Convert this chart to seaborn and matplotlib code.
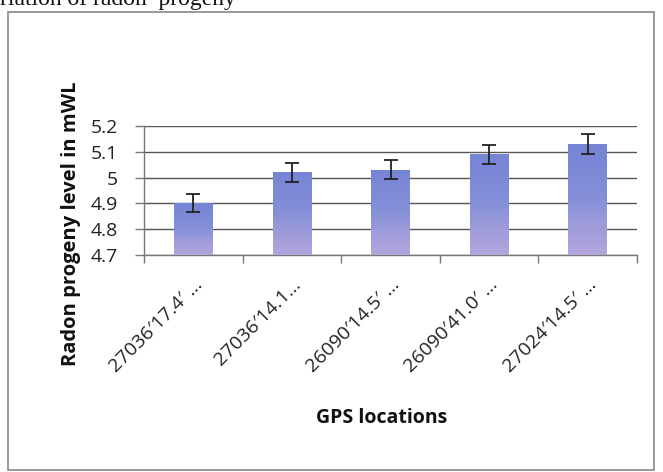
import matplotlib
matplotlib.use("Agg")
import matplotlib.pyplot as plt
from matplotlib.patches import Rectangle
from matplotlib.colors import LinearSegmentedColormap
import seaborn as sns
import pandas as pd
import numpy as np

locations = ["27036′17.4′ …", "27036′14.1…", "26090′14.5′ …", "26090′41.0′ …", "27024′14.5′ …"]
radon_mwl = [4.90, 5.02, 5.03, 5.09, 5.13]
errors = [0.035, 0.037, 0.037, 0.038, 0.038]
y_ticks = [4.7, 4.8, 4.9, 5.0, 5.1, 5.2]
y_tick_labels = ["4.7", "4.8", "4.9", "5", "5.1", "5.2"]

df = pd.DataFrame({"loc": locations, "val": radon_mwl})

sns.set_theme(style="white")
plt.rcParams['font.family'] = ['Open Sans', 'DejaVu Sans']

fig = plt.figure(figsize=(6.63, 4.72), dpi=100)
ax = fig.add_axes([144/663, 1-255/472, (637-144)/663, (255-126)/472])

sns.barplot(data=df, x="loc", y="val", color="#7f8cd8", saturation=1, width=0.39,
            ax=ax, zorder=3, edgecolor="none")

ymin, ymax = 4.7, 5.2
ax.set_ylim(ymin, ymax)
ax.set_xlim(-0.5, len(locations) - 0.5)

# vertical gradient inside each bar (lavender at the bottom, blue at the top)
cmap = LinearSegmentedColormap.from_list(
    "bar", [(0.0, "#b3a6dd"), (0.3, "#9b9ada"), (0.5, "#8590d8"), (1.0, "#7684d6")])
grad = np.linspace(0, 1, 256).reshape(-1, 1)
for patch in list(ax.patches):
    x0 = patch.get_x()
    w = patch.get_width()
    top = patch.get_y() + patch.get_height()
    im = ax.imshow(grad, cmap=cmap, origin="lower", aspect="auto",
                   extent=[x0, x0 + w, ymin, top], zorder=3.5)
    im.set_clip_path(patch)
ax.set_ylim(ymin, ymax)
ax.set_xlim(-0.5, len(locations) - 0.5)

ax.errorbar(np.arange(len(radon_mwl)), radon_mwl, yerr=errors, fmt="none",
            ecolor="#222222", elinewidth=1.3, capsize=5, capthick=1.3, zorder=4)

ax.set_yticks(y_ticks)
ax.set_yticklabels(y_tick_labels, fontsize=14, color="#222222")
ax.yaxis.grid(True, color="#555555", linewidth=1.0, zorder=0)
ax.set_axisbelow(True)
for s in ["top", "right"]:
    ax.spines[s].set_visible(False)
for s in ["left", "bottom"]:
    ax.spines[s].set_color("#777777")
    ax.spines[s].set_linewidth(1.0)
ax.tick_params(axis="y", which="major", length=6.5, width=1.0, color="#777777", left=True, pad=12)
ax.set_xticks(np.arange(len(locations)))
ax.set_xticklabels(locations, rotation=45, ha="right", rotation_mode="anchor",
                   fontsize=14, color="#222222")
ax.tick_params(axis="x", which="major", length=0, pad=15)
ax.set_xticks(np.arange(len(locations) + 1) - 0.5, minor=True)
ax.tick_params(axis="x", which="minor", length=6, color="#777777", bottom=True)
ax.set_xlabel("")
ax.set_ylabel("")

fig.text(71/663, 1-224/472, "Radon progeny level in mWL", rotation=90, ha="center", va="center",
         fontsize=14.5, fontweight="bold", color="#111111")
fig.text(382/663, 1-418/472, "GPS locations", ha="center", va="center",
         fontsize=14, fontweight="bold", color="#111111")

fig.text(0.0, 1.0, "riation of radon  progeny", ha="left", va="center",
         fontsize=17, family="Liberation Serif", color="#111111")

fig.patches.append(Rectangle((8/663, 1-470/472), (654-8)/663, (470-12)/472,
                             transform=fig.transFigure, fill=False,
                             edgecolor="#888888", linewidth=1.2))

fig.savefig("out.png", dpi=100, facecolor="white")
